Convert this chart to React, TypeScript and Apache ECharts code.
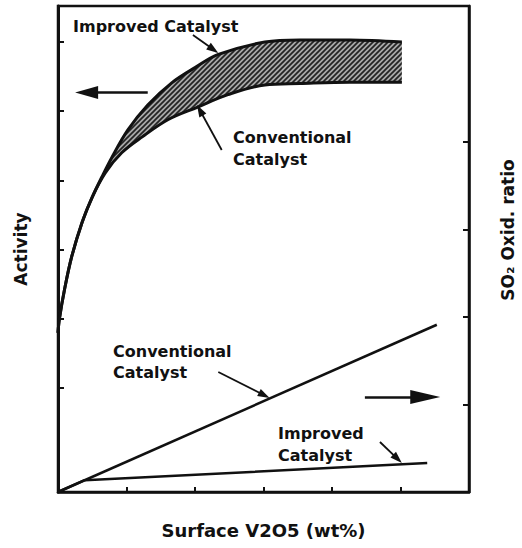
import React, { useEffect, useRef } from "react";
import * as echarts from "echarts";

// ---- data (x: Surface V2O5 wt%, left y: Activity, right y: SO2 oxidation ratio) ----
const xTicks = [1, 2, 3, 4, 5];
const activityTicks = [1.5, 2.5, 3.5, 4.5, 5.5, 6.5];
const so2Ticks = [1, 2, 3, 4];

const improvedActivity: number[][] = [
  [0, 2.3], [0.02, 2.5], [0.1, 2.95], [0.2, 3.4], [0.35, 3.89], [0.5, 4.26],
  [0.64, 4.55], [0.79, 4.84], [1.02, 5.23], [1.31, 5.59], [1.66, 5.91],
  [2.0, 6.13], [2.34, 6.32], [3.02, 6.5], [3.53, 6.53], [4.26, 6.53], [5.02, 6.5],
];
const conventionalActivity: number[][] = [
  [0, 2.3], [0.02, 2.5], [0.1, 2.95], [0.2, 3.4], [0.35, 3.89], [0.5, 4.26],
  [0.69, 4.61], [0.93, 4.9], [1.23, 5.13], [1.61, 5.38], [2.04, 5.56],
  [2.48, 5.74], [3.02, 5.88], [3.53, 5.9], [4.26, 5.92], [5.02, 5.92],
];
const conventionalSO2: number[][] = [[0, 0], [5.53, 1.91]];
const improvedSO2: number[][] = [[0, 0], [0.39, 0.135], [5.39, 0.33]];

// annotation arrows [from, tip] in data units
const activityArrow = [[1.31, 5.77], [0.25, 5.77]];
const improvedLabelArrow = [[1.97, 6.6], [2.34, 6.34]];
const conventionalLabelArrow = [[2.39, 4.94], [2.03, 5.59]];
const so2Arrow = [[4.48, 1.086], [5.58, 1.086]];
const conventionalSO2Arrow = [[2.34, 1.371], [3.09, 1.074]];
const improvedSO2Arrow = [[4.7, 0.571], [5.02, 0.331]];

const INK = "#111";
const FONT = "DejaVu Sans";

function makeHatch(): HTMLCanvasElement {
  const c = document.createElement("canvas");
  c.width = 5;
  c.height = 5;
  const ctx = c.getContext("2d")!;
  ctx.fillStyle = "#a8a8a8";
  ctx.fillRect(0, 0, 5, 5);
  ctx.strokeStyle = "#222";
  ctx.lineWidth = 1.7;
  ctx.beginPath();
  ctx.moveTo(-1, 6); ctx.lineTo(6, -1);
  ctx.moveTo(-1, 1); ctx.lineTo(1, -1);
  ctx.moveTo(4, 6); ctx.lineTo(6, 4);
  ctx.stroke();
  return c;
}

export default function App() {
  const ref = useRef<HTMLDivElement>(null);
  useEffect(() => {
    document.body.style.margin = "0";
    const chart = echarts.init(ref.current!, null, { renderer: "svg" });
    const hatch = makeHatch();
    const nameStyle = { fontFamily: FONT, fontWeight: "bold", fontSize: 17, color: INK };
    const textStyle = (text: string, lh: number) => ({
      text,
      font: `bold 16px "${FONT}"`,
      fill: INK,
      lineHeight: lh,
    });
    chart.setOption({
      animation: false,
      backgroundColor: "#fff",
      grid: {
        left: 58, right: 53, top: 6, bottom: 56,
        show: true, borderColor: INK, borderWidth: 2.5, backgroundColor: "transparent",
      },
      xAxis: {
        type: "value", min: 0, max: 6,
        axisLine: { show: true, onZero: false, lineStyle: { color: INK, width: 2.5 } },
        axisTick: { show: true, inside: true, length: 5, customValues: xTicks, lineStyle: { color: INK, width: 2 } },
        axisLabel: { show: false },
        splitLine: { show: false },
        name: "Surface V2O5 (wt%)",
        nameLocation: "middle",
        nameGap: 29,
        nameTextStyle: { ...nameStyle, fontSize: 18 },
      },
      yAxis: [
        {
          type: "value", min: 0, max: 7.02,
          axisLine: { show: true, onZero: false, lineStyle: { color: INK, width: 3 } },
          axisTick: { show: true, inside: true, length: 6, customValues: activityTicks, lineStyle: { color: INK, width: 2 } },
          axisLabel: { show: false },
          splitLine: { show: false },
          name: "Activity",
          nameLocation: "middle",
          nameRotate: 90,
          nameGap: 29,
          nameTextStyle: nameStyle,
        },
        {
          type: "value", min: 0, max: 5.55, position: "right",
          axisLine: { show: true, onZero: false, lineStyle: { color: INK, width: 2.5 } },
          axisTick: { show: true, inside: true, length: 6, customValues: so2Ticks, lineStyle: { color: INK, width: 2 } },
          axisLabel: { show: false },
          splitLine: { show: false },
        },
      ],
      graphic: [
        { type: "text", x: 508, y: 230, rotation: Math.PI / 2, style: { text: "SO₂ Oxid. ratio", font: `bold 17px "${FONT}"`, fill: INK, align: "center", verticalAlign: "middle" } },
        { type: "text", x: 73, y: 16, style: textStyle("Improved Catalyst", 20) },
        { type: "text", x: 233, y: 126, style: textStyle("Conventional\nCatalyst", 22) },
        { type: "text", x: 113, y: 341, style: textStyle("Conventional\nCatalyst", 21) },
        { type: "text", x: 278, y: 422, style: textStyle("Improved\nCatalyst", 22) },
      ],
      series: [
        {
          id: "band",
          type: "custom",
          name: "band",
          silent: true,
          z: 1,
          data: [[0, 0]],
          renderItem: (_p: any, api: any) => {
            const pts = [
              ...improvedActivity.map((p) => api.coord(p)),
              ...conventionalActivity.slice().reverse().map((p) => api.coord(p)),
            ];
            return { type: "polygon", shape: { points: pts }, style: { fill: { image: hatch, repeat: "repeat" }, stroke: "none" } };
          },
        },
        {
          id: "impAct", type: "line", name: "Improved Catalyst (activity)", data: improvedActivity,
          smooth: 0.35, showSymbol: false, symbol: "none", z: 3,
          lineStyle: { color: INK, width: 3 },
        },
        {
          id: "convAct", type: "line", name: "Conventional Catalyst (activity)", data: conventionalActivity,
          smooth: 0.35, showSymbol: false, symbol: "none", z: 3,
          lineStyle: { color: INK, width: 3 },
        },
        {
          id: "convSO2", type: "line", name: "Conventional Catalyst (SO2)", data: conventionalSO2, yAxisIndex: 1,
          showSymbol: false, symbol: "none", z: 3,
          lineStyle: { color: INK, width: 2.5 },
        },
        {
          id: "impSO2", type: "line", name: "Improved Catalyst (SO2)", data: improvedSO2, yAxisIndex: 1,
          showSymbol: false, symbol: "none", z: 3,
          lineStyle: { color: INK, width: 2.5 },
        },
      ],
    });

    // place arrow heads so that their tips land on the given data points
    const arrowLines = (seriesIndex: number, list: number[][][], size: number[], width: number) => {
      const data = list.map(([from, tip]) => {
        const p0 = chart.convertToPixel({ seriesIndex }, from) as number[];
        const p1 = chart.convertToPixel({ seriesIndex }, tip) as number[];
        const dx = p1[0] - p0[0];
        const dy = p1[1] - p0[1];
        const d = Math.hypot(dx, dy) || 1;
        const end = [p1[0] - (dx / d) * size[1] / 2, p1[1] - (dy / d) * size[1] / 2];
        const endData = chart.convertFromPixel({ seriesIndex }, end) as number[];
        return [{ coord: from }, { coord: endData }];
      });
      return {
        silent: true,
        animation: false,
        symbol: ["none", "triangle"],
        symbolSize: size,
        label: { show: false },
        lineStyle: { color: INK, width, type: "solid" },
        emphasis: { disabled: true },
        data,
      };
    };

    chart.setOption({
      series: [
        { id: "impAct", markLine: arrowLines(1, [activityArrow], [13, 23], 2.6) },
        { id: "convAct", markLine: arrowLines(2, [improvedLabelArrow, conventionalLabelArrow], [8, 12], 1.8) },
        { id: "convSO2", markLine: arrowLines(3, [conventionalSO2Arrow, improvedSO2Arrow], [8, 12], 1.8) },
        { id: "impSO2", markLine: arrowLines(4, [so2Arrow], [14, 30], 2.6) },
      ],
    });
    return () => chart.dispose();
  }, []);
  return <div ref={ref} style={{ width: 522, height: 548 }} />;
}
